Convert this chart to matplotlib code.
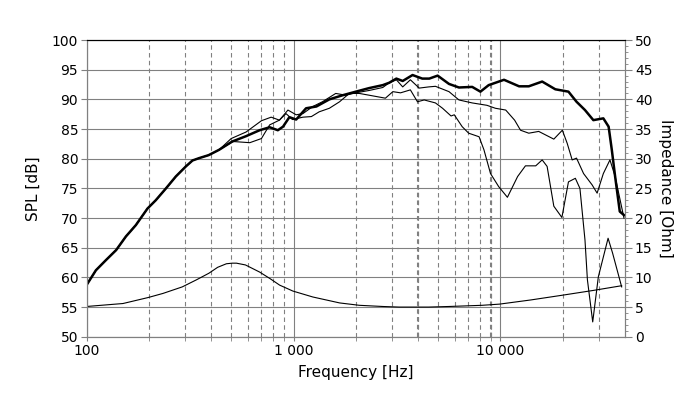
import numpy as np
import matplotlib
matplotlib.use("Agg")
from matplotlib import pyplot as plt
from matplotlib.ticker import FixedLocator, NullFormatter

plt.rcParams.update({
    "font.family": "DejaVu Sans",
    "font.size": 10,
})

# on-axis SPL (bold)
freq_0 = [100, 111, 124, 139, 155, 173, 197, 216, 242, 270, 302, 325, 350, 389,
          437, 470, 506, 590, 686, 767, 840, 890, 955, 1030, 1150, 1290, 1490,
          1730, 2000, 2320, 2700, 2900, 3140, 3370, 3760, 4190, 4530, 4970, 5640,
          6300, 7300, 8000, 8770, 10400, 12300, 13700, 15900, 18400, 21300, 23300,
          25600, 28100, 31400, 33300, 34500, 35800, 37700, 39500]
spl_0 = [58.7, 61.2, 62.9, 64.6, 66.9, 68.8, 71.6, 73.0, 75.0, 77.0, 78.7, 79.7,
         80.1, 80.6, 81.5, 82.2, 82.9, 83.8, 84.8, 85.3, 84.8, 85.4, 87.0, 86.6,
         88.5, 88.8, 90.0, 90.7, 91.3, 91.9, 92.4, 92.8, 93.5, 93.1, 94.1, 93.5,
         93.5, 94.0, 92.6, 92.0, 92.1, 91.3, 92.4, 93.3, 92.2, 92.2, 93.0, 91.7,
         91.3, 89.6, 88.2, 86.5, 86.8, 85.4, 81.5, 77.0, 71.1, 70.5]

# 30 deg SPL (thin), below ~440 Hz it runs under the bold curve
freq_30 = [100, 111, 124, 139, 155, 173, 197, 216, 242, 270, 302, 325, 350, 389,
           437, 500, 590, 700, 780, 855, 940, 1030, 1110,
           1240, 1380, 1600, 1790, 2000, 2320, 2700, 2900, 3140, 3370, 3670, 4050,
           4500, 4850, 5640, 6300, 7300, 8600, 9450, 10600, 11700, 12500, 13700,
           15300, 18100, 19900, 21000, 22200, 23300, 25200, 27700, 29300, 31400,
           33800, 35800, 39500]
spl_30 = [58.7, 61.2, 62.9, 64.6, 66.9, 68.8, 71.6, 73.0, 75.0, 77.0, 78.7, 79.7,
          80.1, 80.6, 81.5, 83.4, 84.5, 86.4, 87.0, 86.5, 88.2,
          87.4, 87.6, 88.8, 89.6, 91.0, 90.7, 91.1, 91.5, 92.0, 92.8, 93.3, 92.1,
          93.3, 91.9, 92.1, 92.2, 91.3, 89.9, 89.4, 89.0, 88.5, 88.2, 86.5, 84.8,
          84.3, 84.6, 83.3, 84.8, 82.6, 79.8, 80.1, 77.5, 75.6, 74.2, 77.5, 79.8,
          77.0, 70.0]

# 60 deg SPL (thin)
freq_60 = [100, 111, 124, 139, 155, 173, 197, 216, 242, 270, 302, 325, 350, 389,
           437, 510, 615, 700, 740, 767, 855, 920, 990,
           1110, 1220, 1330, 1490, 1670, 1860, 2080, 2320, 2780, 3020, 3290, 3670,
           3970, 4280, 4850, 5250, 5770, 5980, 6530, 7020, 7880, 8320, 8950, 9800,
           10800, 12100, 13200, 14800, 15900, 16800, 18100, 19800, 21300, 23000,
           24200, 25600, 26300, 27900, 29700, 33100, 34800, 38500]
spl_60 = [58.7, 61.2, 62.9, 64.6, 66.9, 68.8, 71.6, 73.0, 75.0, 77.0, 78.7, 79.7,
          80.1, 80.6, 81.5, 82.9, 82.7, 83.4, 84.8, 85.7, 86.5,
          87.6, 86.6, 87.0, 87.1, 87.9, 88.5, 89.6, 91.0, 91.0, 90.7, 90.2, 91.3,
          91.1, 91.6, 89.6, 89.9, 89.4, 88.5, 87.2, 87.4, 85.4, 84.3, 83.7, 81.5,
          77.5, 75.3, 73.5, 77.0, 78.8, 78.8, 79.8, 78.7, 72.0, 70.1, 76.1, 76.7,
          75.0, 66.3, 59.6, 52.5, 60.1, 66.6, 64.1, 58.4]

# impedance (right axis)
freq_z = [100, 150, 198, 234, 290, 340, 390, 430, 474, 506, 530, 586, 686, 770,
          857, 993, 1240, 1670, 2080, 2700, 3240, 4500, 5640, 8150, 9900, 14000,
          19900, 28000, 38500]
imp_z = [5.1, 5.6, 6.6, 7.3, 8.4, 9.6, 10.7, 11.7, 12.3, 12.4, 12.4, 12.1, 10.9,
         9.8, 8.7, 7.7, 6.7, 5.7, 5.3, 5.1, 5.0, 5.0, 5.1, 5.3, 5.5, 6.2, 7.0, 7.8,
         8.6]

x_major = [100, 1000, 10000]
x_major_labels = ["100", "1 000", "10 000"]
x_minor = [200, 300, 400, 500, 600, 700, 800, 900,
           2000, 3000, 4000, 5000, 6000, 7000, 8000, 9000, 20000, 30000]

grey = "#808080"

fig = plt.figure(figsize=(7, 3.99), dpi=100)
ax = fig.add_axes([0.1236, 0.156, 0.7694, 0.7437])
ax2 = ax.twinx()

ax.set_xscale("log")
ax.set_xlim(100, 40000)
ax.set_ylim(50, 100)
ax2.set_ylim(0, 50)

ax.xaxis.set_major_locator(FixedLocator(x_major))
ax.set_xticklabels(x_major_labels)
ax.xaxis.set_minor_locator(FixedLocator(x_minor))
ax.xaxis.set_minor_formatter(NullFormatter())
ax.set_yticks(np.arange(50, 101, 5))
ax2.set_yticks(np.arange(0, 51, 5))
ax2.set_yticks(np.arange(0, 51, 1), minor=True)

ax.grid(which="major", axis="both", color=grey, linestyle="-", linewidth=0.8)
ax.grid(which="minor", axis="x", color=grey, linestyle=(0, (4, 3)), linewidth=0.8)
# the two heavier dashed lines of the original
for fx in (4000, 9000):
    ax.axvline(fx, color=grey, linestyle=(0, (2.13, 1.6)), linewidth=1.5, zorder=0.5)
ax.set_axisbelow(True)

ax.plot(freq_60, spl_60, color="black", linewidth=0.8, zorder=3)
ax.plot(freq_30, spl_30, color="black", linewidth=0.8, zorder=3)
ax.plot(freq_0, spl_0, color="black", linewidth=1.8, zorder=4)
ax2.plot(freq_z, imp_z, color="black", linewidth=0.8)

for a in (ax, ax2):
    for side in ("left", "right", "bottom"):
        a.spines[side].set_color(grey)
    a.spines["top"].set_color("black")

ax.tick_params(axis="y", which="major", direction="out", length=4, color=grey,
               labelsize=10, pad=2)
ax.tick_params(axis="x", which="both", direction="out", length=3, color=grey,
               labelsize=10, pad=2)
ax2.tick_params(axis="y", which="major", direction="out", length=5, color=grey,
                labelsize=10, pad=2)
ax2.tick_params(axis="y", which="minor", direction="out", length=2.5, color=grey)

ax.set_xlabel("Frequency [Hz]", fontsize=11, labelpad=5)
ax.set_ylabel("SPL [dB]", fontsize=11, labelpad=8)
ax2.set_ylabel("Impedance [Ohm]", fontsize=11, rotation=270, labelpad=15)

fig.savefig("out.png", dpi=100)
